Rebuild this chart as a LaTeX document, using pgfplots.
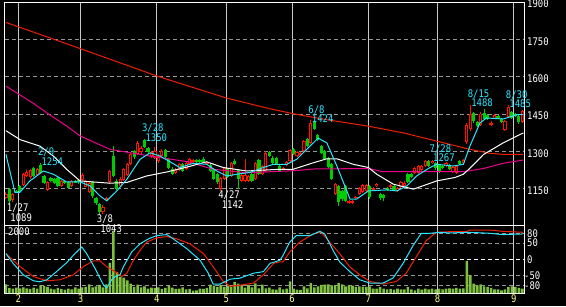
\documentclass[border=0pt]{standalone}
\usepackage{fontspec}
\usepackage{pgfplots}
\usepackage{pgfplotstable}
\pgfplotsset{compat=1.18}
\newfontfamily\pix[FakeStretch=0.85]{DejaVu Sans Mono}
\newcommand\pf{\pix\fontsize{10.5pt}{10.5pt}\selectfont}
\definecolor{cgreen}{RGB}{0,205,0}
\definecolor{cred}{RGB}{255,20,0}
\definecolor{macyan}{RGB}{40,230,255}
\definecolor{mared}{RGB}{240,30,0}
\definecolor{vgreen}{RGB}{128,192,64}
\definecolor{gridg}{RGB}{150,150,150}
\definecolor{vgrid}{RGB}{200,200,200}
\definecolor{ylab}{RGB}{255,255,128}

\pgfplotstableread{
i o h l c
-4 1112 1136 1108 1130
-2 1103 1134 1098 1130
1 1165 1214 1162 1210
2 1202 1224 1196 1218
3 1195 1230 1190 1226
5 1206 1232 1202 1228
8 1146 1180 1140 1176
12 1160 1186 1156 1182
15 1160 1185 1157 1181
18 1186 1214 1182 1204
19 1158 1184 1155 1181
20 1138 1178 1134 1174
24 1058 1084 1050 1078
25 1104 1116 1100 1112
26 1176 1224 1170 1220
29 1160 1195 1155 1190
30 1185 1232 1180 1228
31 1205 1252 1200 1248
32 1250 1292 1245 1288
34 1290 1341 1286 1332
35 1296 1320 1290 1314
38 1280 1302 1272 1298
39 1275 1318 1270 1300
40 1262 1290 1255 1282
41 1280 1308 1276 1302
45 1212 1232 1208 1226
46 1225 1252 1220 1248
48 1230 1256 1226 1252
49 1250 1272 1246 1268
50 1256 1268 1252 1264
54 1250 1260 1246 1256
58 1150 1198 1142 1194
59 1190 1238 1186 1234
61 1202 1258 1198 1252
64 1182 1210 1178 1206
65 1182 1268 1178 1205
66 1182 1204 1178 1200
68 1190 1256 1186 1252
70 1210 1244 1206 1240
71 1222 1300 1218 1292
76 1230 1238 1226 1234
77 1244 1260 1240 1256
78 1262 1310 1258 1306
80 1282 1300 1278 1296
81 1286 1298 1282 1294
82 1300 1346 1296 1340
84 1334 1424 1330 1414
91 1128 1172 1124 1168
95 1092 1104 1088 1100
96 1092 1104 1088 1100
97 1114 1122 1110 1118
98 1128 1156 1124 1152
99 1138 1168 1134 1165
100 1142 1170 1138 1165
102 1148 1156 1144 1152
103 1160 1174 1156 1170
107 1158 1170 1154 1166
109 1142 1156 1138 1152
110 1158 1180 1154 1176
111 1162 1180 1158 1174
114 1212 1238 1208 1234
115 1214 1246 1210 1240
116 1226 1244 1222 1240
117 1240 1264 1236 1260
119 1252 1267 1248 1262
123 1240 1256 1236 1252
125 1218 1240 1214 1236
126 1212 1246 1208 1242
128 1252 1270 1248 1264
129 1338 1412 1330 1404
130 1390 1488 1380 1452
133 1404 1458 1400 1452
136 1406 1420 1400 1412
137 1432 1450 1428 1446
140 1386 1424 1380 1420
141 1436 1485 1432 1478
145 1418 1466 1414 1462
}\upc

\pgfplotstableread{
i o h l c
-3 1148 1152 1089 1100
-1 1142 1146 1132 1136
0 1162 1166 1136 1140
4 1232 1236 1196 1200
6 1246 1254 1208 1212
7 1200 1204 1168 1174
9 1192 1195 1176 1180
10 1190 1194 1168 1172
11 1192 1196 1157 1160
13 1180 1184 1168 1172
14 1178 1181 1148 1152
16 1182 1186 1172 1175
17 1186 1190 1170 1176
21 1177 1180 1112 1122
22 1112 1116 1086 1092
23 1088 1092 1043 1056
27 1280 1320 1196 1202
28 1181 1190 1145 1150
33 1300 1305 1270 1276
36 1345 1350 1312 1318
37 1312 1316 1290 1296
42 1305 1310 1275 1278
43 1268 1272 1230 1235
44 1230 1236 1205 1210
47 1248 1252 1215 1220
51 1264 1268 1254 1258
52 1266 1270 1254 1258
53 1270 1276 1254 1258
55 1246 1250 1218 1222
56 1228 1232 1186 1190
57 1208 1212 1170 1176
60 1228 1232 1192 1196
62 1262 1268 1246 1250
63 1225 1230 1150 1190
67 1210 1214 1178 1182
69 1264 1270 1206 1210
72 1296 1300 1278 1282
73 1275 1280 1250 1255
74 1272 1276 1245 1250
75 1240 1244 1218 1222
79 1308 1312 1286 1290
83 1350 1354 1318 1322
85 1420 1424 1386 1390
86 1366 1370 1340 1345
87 1320 1324 1290 1294
88 1300 1304 1266 1270
89 1274 1278 1232 1236
90 1248 1252 1184 1188
92 1160 1164 1080 1096
93 1140 1145 1100 1110
94 1160 1164 1095 1100
101 1160 1164 1110 1115
104 1128 1132 1105 1112
105 1124 1128 1100 1112
106 1152 1156 1140 1146
108 1160 1164 1140 1145
112 1208 1212 1174 1178
113 1208 1212 1192 1196
118 1260 1264 1236 1242
120 1255 1258 1226 1232
121 1245 1250 1214 1220
122 1240 1244 1228 1232
124 1246 1250 1224 1228
127 1262 1266 1244 1248
131 1454 1460 1415 1420
132 1416 1420 1396 1400
134 1454 1470 1426 1430
135 1446 1450 1426 1430
138 1440 1446 1432 1436
139 1430 1434 1412 1416
142 1458 1462 1428 1432
143 1452 1456 1436 1440
144 1440 1444 1410 1416
}\dnc

\pgfplotstableread{
i v
-4 260
-3 150
-2 130
-1 160
0 140
1 170
2 140
3 120
4 160
5 130
6 230
7 210
8 180
9 130
10 110
11 150
12 120
13 100
14 130
15 110
16 170
17 130
18 170
19 180
20 260
21 170
22 200
23 240
24 170
25 260
26 900
27 1850
28 620
29 480
30 460
31 380
32 280
33 180
34 250
35 170
36 200
37 130
38 160
39 150
40 170
41 120
42 150
43 230
44 160
45 120
46 130
47 170
48 110
49 120
50 70
51 80
52 130
53 120
54 150
55 250
56 220
57 180
58 240
59 180
60 230
61 180
62 330
63 280
64 240
65 160
66 240
67 170
68 290
69 140
70 250
71 140
72 160
73 110
74 100
75 170
76 110
77 130
78 350
79 130
80 100
81 90
82 200
83 140
84 300
85 170
86 200
87 240
88 250
89 260
90 230
91 230
92 300
93 260
94 200
95 230
96 220
97 180
98 200
99 190
100 180
101 200
102 130
103 130
104 180
105 130
106 110
107 120
108 100
109 130
110 110
111 110
112 180
113 110
114 80
115 130
116 100
117 130
118 110
119 130
120 110
121 130
122 110
123 130
124 140
125 130
126 150
127 130
128 140
129 960
130 530
131 280
132 230
133 260
134 200
135 180
136 150
137 110
138 110
139 80
140 110
141 180
142 200
143 180
144 150
145 130
}\vol

\begin{document}
\begin{tikzpicture}[
  myhl/.style={font=\pf, text=macyan, anchor=west, inner sep=0pt, text height=7.5pt, text depth=0pt},
  mylw/.style={font=\pf, text=white, anchor=west, inner sep=0pt, text height=7.5pt, text depth=0pt},
]
\fill[black] (0,0) rectangle (566pt,306pt);

% lower panel: frame and grid
\begin{axis}[
  at={(5pt,13pt)}, anchor=south west, scale only axis,
  width=519pt, height=67pt,
  xmin=-4.27, xmax=145.5, ymin=-102.3, ymax=102.3,
  axis line style={white, line width=1pt},
  xtick={-0.43,17.57,39.57,59.57,78.57,100.57,120.57,142.57},
  xticklabels={2,3,4,5,6,7,8,9},
  xticklabel style={font=\pf, text=ylab, anchor=north, inner sep=0pt, yshift=-2pt},
  ytick={-80,-50,0,50,80},
  yticklabels={\hspace*{-3pt}-80,\hspace*{-3pt}-50,0,50,80},
  yticklabel pos=right,
  yticklabel style={font=\pf, text=white, anchor=west, inner sep=0pt, xshift=3pt},
  major tick length=0pt,
  xmajorgrids, ymajorgrids,
  x grid style={vgrid, line width=1pt},
  y grid style={gridg, dash pattern=on 4pt off 3pt, line width=1pt},
]
\addplot[draw=none] coordinates {(0,0)};
\draw[white, dash pattern=on 4pt off 3pt, line width=1pt] (axis cs:-4.27,0) -- (axis cs:145.5,0);
\node[mylw] at (axis cs:-3.4,84) {2000};
\end{axis}

% volume
\begin{axis}[
  at={(5pt,13pt)}, anchor=south west, scale only axis,
  width=519pt, height=67pt,
  xmin=-4.27, xmax=145.5, ymin=0, ymax=2000, hide axis,
]
\addplot[ybar, bar width=2.6pt, fill=vgreen, draw=none] table[x=i, y=v] {\vol};
\end{axis}

% oscillators
\begin{axis}[
  at={(5pt,13pt)}, anchor=south west, scale only axis,
  width=519pt, height=67pt,
  xmin=-4.27, xmax=145.5, ymin=-102.3, ymax=102.3, hide axis,
]
\addplot[mared, line width=1pt] coordinates {
(-4,18) (0.1,-22) (3.9,-52) (7.8,-65) (11.6,-62) (15.4,-47) (18.3,-22) (21.2,-4)
(23.1,-4) (25.1,-22) (27.5,-37) (29.4,-52) (30.9,-42) (32.8,-2) (34.7,28) (36.6,53)
(39.5,66) (42.4,70) (45.3,63) (49.1,48) (53.0,18) (55.8,-22) (58.7,-67) (60.7,-82)
(64.5,-77) (67.4,-72) (70.3,-47) (73.2,-12) (75.1,-7) (76.0,-7) (77.9,23) (80.8,53)
(84.6,78) (87.0,83) (89.4,53) (92.3,18) (95.2,-22) (98.1,-47) (101.0,-67) (104.8,-75)
(108.7,-67) (111.5,-42) (114.4,8) (117.3,58) (120.2,83) (124.1,85) (128.9,85) (129.9,90)
(135.6,90) (139.4,86) (145.2,83)};
\addplot[macyan, line width=1pt] coordinates {
(-4,18) (-1.9,-12) (1.0,-47) (3.9,-65) (5.8,-68) (7.8,-62) (10.6,-37) (13.5,-10)
(15.9,18) (17.9,38) (19.3,18) (21.7,-27) (24.1,-77) (25.1,-87) (26.5,-62) (27.5,-52)
(28.9,-47) (29.9,-22) (32.3,23) (34.7,48) (37.1,63) (39.5,73) (42.4,76) (44.3,63)
(48.2,33) (52.0,-2) (54.4,-42) (55.8,-75) (57.8,-75) (60.7,-60) (63.5,-57) (67.4,-42)
(70.3,-37) (72.2,-12) (75.1,-2) (76.0,13) (77.9,53) (79.8,73) (83.7,73) (86.6,86)
(88.0,78) (90.4,28) (92.3,-7) (95.2,-37) (98.1,-62) (101.0,-72) (104.8,-72) (107.7,-57)
(110.6,-12) (113.5,43) (115.9,80) (118.3,80) (121.2,83) (124.1,81) (129.8,83) (135.6,80)
(139.4,76) (145.2,78)};
\end{axis}

% main price panel
\begin{axis}[
  at={(5pt,80pt)}, anchor=south west, scale only axis,
  width=519pt, height=224pt,
  xmin=-4.27, xmax=145.5, ymin=1000, ymax=1900,
  axis line style={white, line width=1pt},
  xtick={-0.43,17.57,39.57,59.57,78.57,100.57,120.57,142.57},
  xticklabels={},
  ytick={1150,1300,1450,1600,1750,1900},
  yticklabels={1150,1300,1450,1600,1750,1900},
  yticklabel pos=right,
  yticklabel style={font=\pf, text=white, anchor=west, inner sep=0pt, xshift=3pt, yshift=-2pt},
  major tick length=0pt,
  xmajorgrids, ymajorgrids,
  x grid style={vgrid, line width=1pt},
  y grid style={gridg, dash pattern=on 4pt off 3pt, line width=1pt},
  clip mode=individual,
]
% up candles (red, hollow)
\addplot[draw=none, mark=none, error bars/.cd, y dir=both, y explicit, error mark=none,
  error bar style={draw=cred, line width=1pt}]
  table[x=i, y expr=(\thisrow{h}+\thisrow{l})/2, y error expr=(\thisrow{h}-\thisrow{l})/2] {\upc};
\addplot[draw=none, mark=none, error bars/.cd, y dir=both, y explicit, error mark=none,
  error bar style={draw=cred, line width=3.2pt}]
  table[x=i, y expr=(\thisrow{o}+\thisrow{c})/2, y error expr={abs(\thisrow{c}-\thisrow{o})/2}] {\upc};
\addplot[draw=none, mark=none, error bars/.cd, y dir=both, y explicit, error mark=none,
  error bar style={draw=black, line width=1.2pt}]
  table[x=i, y expr=(\thisrow{o}+\thisrow{c})/2, y error expr={max(abs(\thisrow{c}-\thisrow{o})/2-4,0)}] {\upc};
% down candles (green, filled)
\addplot[draw=none, mark=none, error bars/.cd, y dir=both, y explicit, error mark=none,
  error bar style={draw=cgreen, line width=1pt}]
  table[x=i, y expr=(\thisrow{h}+\thisrow{l})/2, y error expr=(\thisrow{h}-\thisrow{l})/2] {\dnc};
\addplot[draw=none, mark=none, error bars/.cd, y dir=both, y explicit, error mark=none,
  error bar style={draw=cgreen, line width=3.2pt}]
  table[x=i, y expr=(\thisrow{o}+\thisrow{c})/2, y error expr={abs(\thisrow{c}-\thisrow{o})/2}] {\dnc};

% moving averages
\addplot[mared, line width=1pt] coordinates {
(-4,1818) (17.4,1713) (39.5,1603) (48.5,1563) (59.7,1514) (71.3,1474) (78.9,1451)
(88.6,1427) (100.6,1401) (110.7,1374) (120.3,1341) (129.9,1308) (135.7,1292)
(139.5,1288) (145.3,1288)};
\addplot[magenta, line width=1pt] coordinates {
(-4,1562) (3.9,1493) (8.7,1446) (13.5,1402) (17.4,1362) (26,1308) (37.6,1281)
(48.6,1258) (55.8,1228) (65.5,1214) (78.9,1222) (84.7,1229) (100.6,1231) (104.8,1218)
(128,1218) (133.8,1231) (139.5,1252) (145.3,1265)};
\addplot[white, line width=1pt] coordinates {
(-4,1383) (0.06,1347) (5.8,1321) (9.7,1281) (13.5,1228) (17.4,1181) (23.1,1175)
(26,1172) (30.9,1175) (36.6,1201) (42.4,1217) (48.6,1238) (53.9,1258) (58.7,1235)
(65.5,1221) (75.1,1228) (78.9,1228) (84.7,1254) (88.6,1270) (91.5,1270) (96.2,1248)
(100.6,1235) (103,1208) (107.8,1168) (113.6,1148) (120.3,1181) (125.6,1195)
(128,1208) (129.9,1232) (133.8,1287) (139.5,1334) (145.3,1374)};
\addplot[macyan, line width=1pt] coordinates {
(-4,1288) (-1.4,1135) (0,1135) (2.9,1181) (6.8,1221) (9.7,1208) (13.5,1177)
(17.4,1177) (20.3,1161) (23.1,1121) (25.1,1101) (28,1141) (30.9,1188) (34.7,1268)
(37.6,1294) (40.5,1281) (46.2,1235) (50.1,1252) (53.9,1248) (56.8,1221) (59.7,1201)
(62.6,1208) (66.4,1215) (70.3,1235) (73.2,1248) (77,1248) (79.9,1268) (82.8,1308)
(86.1,1353) (88.6,1334) (91.5,1241) (93.4,1175) (95.3,1108) (97.2,1108) (100.6,1141)
(105.9,1145) (108.8,1141) (111.7,1161) (114.5,1201) (117.9,1231) (120.3,1248)
(125.1,1241) (128,1248) (129.9,1321) (132.8,1414) (134.7,1434) (139.5,1430)
(143.4,1447) (145.3,1447)};

% high / low annotations
\node[mylw, xshift=-2.7pt, yshift=-4.3pt] at (axis cs:-3,1089) {1/27};
\node[mylw, xshift=0.8pt, yshift=-13.9pt] at (axis cs:-3,1089) {1089};
\node[myhl, xshift=-2.7pt, yshift=11pt] at (axis cs:6,1254) {2/9};
\node[myhl, xshift=0.8pt, yshift=1.4pt] at (axis cs:6,1254) {1254};
\node[mylw, xshift=-2.7pt, yshift=-3.6pt] at (axis cs:23,1043) {3/8};
\node[mylw, xshift=0.8pt, yshift=-13.2pt] at (axis cs:23,1043) {1043};
\node[myhl, xshift=-2.7pt, yshift=11pt] at (axis cs:36,1350) {3/28};
\node[myhl, xshift=0.8pt, yshift=1.4pt] at (axis cs:36,1350) {1350};
\node[mylw, xshift=-2.7pt, yshift=-4.3pt] at (axis cs:58,1142) {4/27};
\node[mylw, xshift=0.8pt, yshift=-13.9pt] at (axis cs:58,1142) {1142};
\node[myhl, xshift=-2.7pt, yshift=11pt] at (axis cs:84,1424) {6/8};
\node[myhl, xshift=0.8pt, yshift=1.4pt] at (axis cs:84,1424) {1424};
\node[myhl, xshift=-2.7pt, yshift=11pt] at (axis cs:119,1267) {7/28};
\node[myhl, xshift=0.8pt, yshift=1.4pt] at (axis cs:119,1267) {1267};
\node[myhl, xshift=-2.7pt, yshift=11pt] at (axis cs:130,1488) {8/15};
\node[myhl, xshift=0.8pt, yshift=1.4pt] at (axis cs:130,1488) {1488};
\node[myhl, xshift=-2.7pt, yshift=11pt] at (axis cs:141,1485) {8/30};
\node[myhl, xshift=0.8pt, yshift=1.4pt] at (axis cs:141,1485) {1485};
\end{axis}
\end{tikzpicture}
\end{document}
